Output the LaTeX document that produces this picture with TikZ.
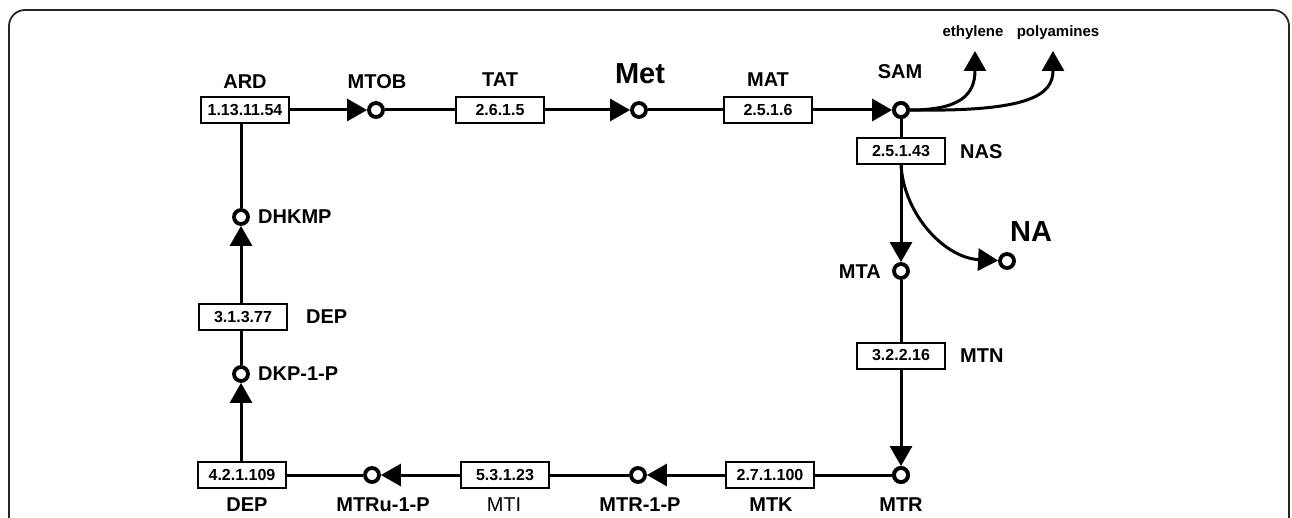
\documentclass[tikz,border=0pt]{standalone}
\usepackage{fontspec}
\setmainfont{Liberation Sans}
\usetikzlibrary{arrows.meta}
\begin{document}
\begin{tikzpicture}[x=1pt,y=-1pt,
  met/.style={circle,draw,line width=3.8pt,minimum size=14pt,inner sep=0pt,fill=white},
  enz/.style={draw,line width=2pt,minimum width=88pt,minimum height=26pt,inner sep=0pt,
    font=\fontsize{16}{18}\selectfont\bfseries},
  lbl/.style={inner sep=0pt,font=\fontsize{20}{23}\selectfont\bfseries},
  biglbl/.style={inner sep=0pt,font=\fontsize{29}{32}\selectfont\bfseries},
  smalllbl/.style={inner sep=0pt,font=\fontsize{15}{17}\selectfont\bfseries},
  conn/.style={line width=3pt},
  arr/.style={line width=3pt,-{Triangle[length=20pt,width=22pt]}},
  frame/.style={line width=1.8pt,draw=black!85}]
\useasboundingbox (0,0) rectangle (1292,518);
\draw[frame] (9,530) -- (9,26) arc[start angle=180,end angle=270,radius=16] -- (1273,10)
  arc[start angle=270,end angle=360,radius=16] -- (1289,530);

% top row
\node[enz] (ard) at (245,110) {1.13.11.54};
\node[met] (mtob) at (376,110) {};
\node[enz] (tat) at (500,110) {2.6.1.5};
\node[met] (met) at (639,110) {};
\node[enz] (mat) at (768,110) {2.5.1.6};
\node[met] (sam) at (901,110) {};
% right column
\node[enz] (nas) at (901,151) {2.5.1.43};
\node[met] (mta) at (901,271) {};
\node[met] (na) at (1007,261) {};
\node[enz] (mtn) at (901,355.5) {3.2.2.16};
% bottom row
\node[met] (mtr) at (901,475) {};
\node[enz] (mtk) at (770,475) {2.7.1.100};
\node[met] (mtr1p) at (638,475) {};
\node[enz] (mti) at (505,475) {5.3.1.23};
\node[met] (mtru) at (372,475) {};
\node[enz] (dep) at (242,475) {4.2.1.109};
% left column
\node[met] (dkp) at (241,374) {};
\node[enz] (dep2) at (243,317) {3.1.3.77};
\node[met] (dhkmp) at (241,217) {};

\coordinate (ethtip) at (975,51);
\coordinate (polytip) at (1053,51);

% labels
\node[lbl] (lard) at (245,82) {ARD};
\node[lbl] (lmtob) at (377,82) {MTOB};
\node[lbl] (ltat) at (500,80) {TAT};
\node[biglbl] (lmet) at (640,74) {Met};
\node[lbl] (lmat) at (768,80) {MAT};
\node[lbl] (lsam) at (900,72) {SAM};
\node[smalllbl] (leth) at (973,33) {ethylene};
\node[smalllbl] (lpoly) at (1058,33) {polyamines};
\node[lbl,anchor=west] (lnas) at (960,152) {NAS};
\node[lbl,anchor=east] (lmta) at (881,272) {MTA};
\node[biglbl] (lna) at (1031,232) {NA};
\node[lbl,anchor=west] (lmtn) at (960,356) {MTN};
\node[lbl] (lmtr) at (901,505) {MTR};
\node[lbl] (lmtk) at (771,505) {MTK};
\node[lbl] (lmtr1p) at (640,505) {MTR-1-P};
\node[inner sep=0pt,font=\fontsize{20}{23}\selectfont] (lmti) at (504,505) {MTI};
\node[lbl] (lmtru) at (383,505) {MTRu-1-P};
\node[lbl] (ldep) at (247,505) {DEP};
\node[lbl,anchor=west] (ldep2) at (306,317) {DEP};
\node[lbl,anchor=west] (ldkp) at (258,374) {DKP-1-P};
\node[lbl,anchor=west] (ldhkmp) at (258,217) {DHKMP};

% connectors
\draw[arr] (ard) -- (mtob);
\draw[conn] (mtob) -- (tat);
\draw[arr] (tat) -- (met);
\draw[conn] (met) -- (mat);
\draw[arr] (mat) -- (sam);
\draw[conn] (sam) -- (nas);
\draw[arr] (nas) -- (mta);
\draw[arr] (nas.south) .. controls (904,215) and (945,258) .. (na);
\draw[conn] (mta) -- (mtn);
\draw[arr] (mtn) -- (mtr);
\draw[conn] (mtr) -- (mtk);
\draw[arr] (mtk) -- (mtr1p);
\draw[conn] (mtr1p) -- (mti);
\draw[arr] (mti) -- (mtru);
\draw[conn] (mtru) -- (dep);
\draw[arr] (dep.north -| dkp) -- (dkp);
\draw[conn] (dkp) -- (dkp |- dep2.south);
\draw[arr] (dkp |- dep2.north) -- (dhkmp);
\draw[conn] (dhkmp) -- (dhkmp |- ard.south);
\draw[arr] (sam.east) .. controls (960,110) and (975,95) .. (ethtip);
\draw[arr] (sam.east) .. controls (1030,112) and (1053,95) .. (polytip);
\node[met] at (sam) {};
\node[met] at (mtr) {};
\end{tikzpicture}
\end{document}
